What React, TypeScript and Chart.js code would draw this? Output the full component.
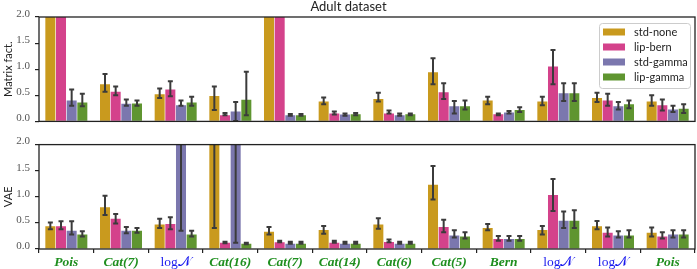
import { useEffect, useRef } from 'react';
import { Chart, registerables } from 'chart.js';
Chart.register(...registerables);

const categories = ['Pois', 'Cat(7)', 'log𝒩', 'Cat(16)', 'Cat(7)', 'Cat(14)', 'Cat(6)', 'Cat(5)', 'Bern', 'log𝒩', 'log𝒩', 'Pois'];
const labelKinds = ['g', 'g', 'b', 'g', 'g', 'g', 'g', 'g', 'g', 'b', 'b', 'g'];
const seriesNames = ['std-none', 'lip-bern', 'std-gamma', 'lip-gamma'];
const seriesColors = ['#c99a1e', '#d4428b', '#7b77ae', '#5f9530'];
const yTickValues = [0, 0.5, 1.0, 1.5, 2.0];
const titleText = 'Adult dataset';
const topYTitle = 'Matrix fact.';
const bottomYTitle = 'VAE';

type Err = [number, number] | null;

// Matrix fact. panel
const mfStdNone = [3.0, 0.71, 0.52, 0.485, 3.0, 0.38, 0.43, 0.94, 0.40, 0.38, 0.45, 0.38];
const mfStdNoneErr: Err[] = [null, [0.57, 0.91], [0.45, 0.63], [0.22, 0.67], null, [0.33, 0.46], [0.38, 0.55], [0.71, 1.21], [0.33, 0.47], [0.31, 0.47], [0.37, 0.55], [0.30, 0.50]];
const mfLipBern = [3.0, 0.57, 0.61, 0.12, 3.0, 0.15, 0.15, 0.56, 0.135, 1.05, 0.40, 0.31];
const mfLipBernErr: Err[] = [null, [0.50, 0.67], [0.48, 0.77], [0.12, 0.16], null, [0.13, 0.19], [0.15, 0.21], [0.43, 0.73], [0.12, 0.15], [0.71, 1.37], [0.30, 0.53], [0.21, 0.42]];
const mfStdGamma = [0.40, 0.34, 0.31, 0.19, 0.12, 0.13, 0.12, 0.29, 0.17, 0.54, 0.29, 0.23];
const mfStdGammaErr: Err[] = [[0.30, 0.61], [0.30, 0.42], [0.30, 0.40], [0.01, 0.37], [0.11, 0.14], [0.11, 0.15], [0.11, 0.15], [0.15, 0.39], [0.15, 0.20], [0.39, 0.73], [0.23, 0.37], [0.18, 0.30]];
const mfLipGamma = [0.36, 0.345, 0.36, 0.415, 0.12, 0.135, 0.135, 0.29, 0.22, 0.54, 0.33, 0.24];
const mfLipGammaErr: Err[] = [[0.29, 0.53], [0.30, 0.40], [0.30, 0.47], [0.12, 0.95], [0.11, 0.14], [0.12, 0.16], [0.12, 0.15], [0.23, 0.40], [0.18, 0.27], [0.39, 0.73], [0.25, 0.40], [0.16, 0.33]];

// VAE panel
const vaeStdNone = [0.435, 0.80, 0.47, 3.0, 0.33, 0.365, 0.47, 1.23, 0.40, 0.365, 0.435, 0.31];
const vaeStdNoneErr: Err[] = [[0.38, 0.51], [0.65, 1.02], [0.40, 0.58], [0.40, 6.0], [0.28, 0.42], [0.29, 0.44], [0.39, 0.59], [0.95, 1.59], [0.36, 0.48], [0.28, 0.44], [0.38, 0.535], [0.24, 0.41]];
const vaeLipBern = [0.435, 0.58, 0.48, 0.12, 0.13, 0.12, 0.135, 0.42, 0.19, 1.035, 0.31, 0.24];
const vaeLipBernErr: Err[] = [[0.38, 0.53], [0.49, 0.67], [0.38, 0.61], [0.11, 0.14], [0.13, 0.16], [0.12, 0.16], [0.13, 0.18], [0.32, 0.56], [0.16, 0.25], [0.73, 1.34], [0.24, 0.41], [0.20, 0.32]];
const vaeStdGamma = [0.35, 0.35, 3.0, 3.0, 0.10, 0.10, 0.10, 0.26, 0.19, 0.54, 0.26, 0.28];
const vaeStdGammaErr: Err[] = [[0.28, 0.53], [0.30, 0.42], [0.35, 6.0], [0.12, 6.0], [0.10, 0.14], [0.10, 0.14], [0.10, 0.14], [0.22, 0.36], [0.16, 0.25], [0.40, 0.72], [0.22, 0.34], [0.22, 0.36]];
const vaeLipGamma = [0.28, 0.35, 0.28, 0.10, 0.10, 0.10, 0.10, 0.24, 0.19, 0.54, 0.26, 0.28];
const vaeLipGammaErr: Err[] = [[0.24, 0.34], [0.31, 0.40], [0.24, 0.35], [0.09, 0.12], [0.10, 0.14], [0.10, 0.14], [0.10, 0.14], [0.20, 0.32], [0.16, 0.25], [0.40, 0.74], [0.22, 0.36], [0.22, 0.36]];

const SANS = 'Lato, "DejaVu Sans", sans-serif';
const SERIF = '"Liberation Serif", "DejaVu Serif", serif';
const W = 697;

function makePlugins(opts: { errs: Err[][]; showTitle: boolean; showLegend: boolean; yTitle: string }) {
  return [
    {
      id: 'errbars',
      afterDatasetsDraw(chart: any) {
        const ctx = chart.ctx;
        const area = chart.chartArea;
        const ys = chart.scales.y;
        ctx.save();
        ctx.beginPath();
        ctx.rect(area.left, area.top, area.right - area.left, area.bottom - area.top);
        ctx.clip();
        ctx.strokeStyle = '#3b3b3b';
        ctx.lineWidth = 2;
        chart.data.datasets.forEach((_ds: any, di: number) => {
          const meta = chart.getDatasetMeta(di);
          meta.data.forEach((el: any, i: number) => {
            const e = opts.errs[di][i];
            if (!e) return;
            const x = el.x;
            const y1 = ys.getPixelForValue(e[0]);
            const y2 = ys.getPixelForValue(e[1]);
            ctx.beginPath();
            ctx.moveTo(x, y1);
            ctx.lineTo(x, y2);
            ctx.moveTo(x - 2.5, y1);
            ctx.lineTo(x + 2.5, y1);
            ctx.moveTo(x - 2.5, y2);
            ctx.lineTo(x + 2.5, y2);
            ctx.stroke();
          });
        });
        ctx.restore();
      },
    },
    {
      id: 'decor',
      afterDraw(chart: any) {
        const ctx = chart.ctx;
        const a = chart.chartArea;
        ctx.save();
        ctx.strokeStyle = '#222';
        ctx.lineWidth = 1.3;
        ctx.strokeRect(a.left, a.top, a.right - a.left, a.bottom - a.top);
        // y title
        ctx.fillStyle = '#222';
        ctx.font = `11px ${SANS}`;
        ctx.textAlign = 'center';
        ctx.textBaseline = 'middle';
        ctx.save();
        ctx.translate(8, (a.top + a.bottom) / 2);
        ctx.rotate(-Math.PI / 2);
        ctx.fillText(opts.yTitle, 0, 0);
        ctx.restore();
        if (opts.showTitle) {
          ctx.font = `13px ${SANS}`;
          ctx.fillText(titleText, W / 2, 7);
        }
        if (opts.showLegend) {
          const bx = 599, by = 23, bw = 91, bh = 65;
          ctx.fillStyle = 'rgba(255,255,255,0.85)';
          ctx.strokeStyle = '#cccccc';
          ctx.lineWidth = 1;
          ctx.beginPath();
          ctx.roundRect(bx + 0.5, by + 0.5, bw, bh, 3);
          ctx.fill();
          ctx.stroke();
          ctx.font = `11px ${SANS}`;
          ctx.textAlign = 'left';
          chart.data.datasets.forEach((ds: any, i: number) => {
            const cy = 32 + i * 15;
            ctx.fillStyle = ds.backgroundColor;
            ctx.fillRect(603, cy - 3.5, 22, 7);
            ctx.fillStyle = '#222';
            ctx.fillText(ds.label, 634, cy);
          });
        }
        ctx.restore();
      },
    },
  ];
}

function Panel(props: { values: number[][]; errs: Err[][]; height: number; top: number; xLabels: boolean; title: boolean; legend: boolean; yTitle: string }) {
  const ref = useRef<HTMLCanvasElement>(null);
  useEffect(() => {
    if (!ref.current) return;
    const chart = new Chart(ref.current, {
      type: 'bar',
      data: {
        labels: categories,
        datasets: seriesNames.map((name, i) => ({
          label: name,
          data: props.values[i],
          backgroundColor: seriesColors[i],
          borderWidth: 0,
          categoryPercentage: 0.78,
          barPercentage: 0.94,
          clip: 0,
        })),
      },
      options: {
        responsive: false,
        animation: false,
        events: [],
        layout: { padding: { top: props.top, right: 2, left: 0, bottom: 0 } },
        plugins: { legend: { display: false }, tooltip: { enabled: false }, title: { display: false } },
        scales: {
          x: {
            grid: { display: props.xLabels, drawOnChartArea: false, tickLength: 4, color: '#222', lineWidth: 1.2 },
            border: { display: false },
            ticks: {
              display: props.xLabels,
              padding: 1,
              maxRotation: 0,
              autoSkip: false,
              color: (c: any) => (labelKinds[c.index] === 'b' ? '#1a1aee' : '#1f8f1f'),
              font: (c: any) =>
                labelKinds[c.index] === 'b'
                  ? { family: SERIF, size: 13.5, weight: 'normal', style: 'normal' }
                  : { family: SERIF, size: 13.5, weight: 'bold', style: 'italic' },
            },
            afterFit: (s: any) => { s.height = props.xLabels ? 20 : 2; },
          },
          y: {
            min: 0,
            max: 2,
            afterBuildTicks: (s: any) => { s.ticks = yTickValues.map((v) => ({ value: v })); },
            grid: { drawOnChartArea: false, tickLength: 4, color: '#222', lineWidth: 1.2 },
            border: { display: false },
            ticks: {
              padding: 5,
              labelOffset: -3,
              color: '#555',
              font: { family: SERIF, size: 11 },
              callback: (v: any) => Number(v).toFixed(1),
            },
            afterFit: (s: any) => { s.width = 39; },
          },
        },
      },
      plugins: makePlugins({ errs: props.errs, showTitle: props.title, showLegend: props.legend, yTitle: props.yTitle }) as any,
    } as any);
    return () => chart.destroy();
  }, []);
  return <canvas ref={ref} width={W} height={props.height} style={{ display: 'block', width: W, height: props.height }} />;
}

export default function App() {
  return (
    <div style={{ position: 'absolute', left: 0, top: 0, width: W, background: '#fff' }}>
      <Panel
        values={[mfStdNone, mfLipBern, mfStdGamma, mfLipGamma]}
        errs={[mfStdNoneErr, mfLipBernErr, mfStdGammaErr, mfLipGammaErr]}
        height={133}
        top={17}
        xLabels={false}
        title={true}
        legend={true}
        yTitle={topYTitle}
      />
      <Panel
        values={[vaeStdNone, vaeLipBern, vaeStdGamma, vaeLipGamma]}
        errs={[vaeStdNoneErr, vaeLipBernErr, vaeStdGammaErr, vaeLipGammaErr]}
        height={136}
        top={1}
        xLabels={true}
        title={false}
        legend={false}
        yTitle={bottomYTitle}
      />
    </div>
  );
}
